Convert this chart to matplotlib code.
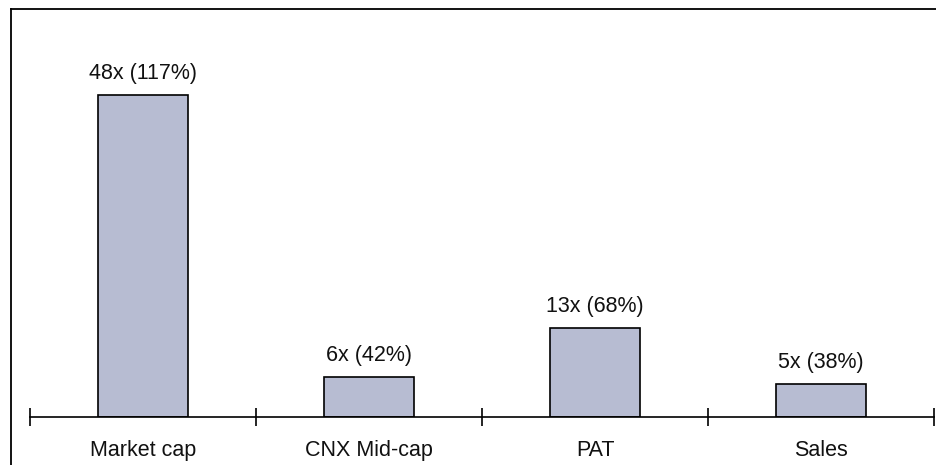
#!/usr/bin/env python3
"""Growth multiples bar chart (market cap vs index vs PAT vs sales)."""

import matplotlib

matplotlib.use("Agg")
import matplotlib.pyplot as plt  # noqa: E402
from matplotlib.lines import Line2D  # noqa: E402

categories = ["Market cap", "CNX Mid-cap", "PAT", "Sales"]
multiples = [48, 6, 13.3, 5]
bar_labels = ["48x (117%)", "6x (42%)", "13x (68%)", "5x (38%)"]

W, H = 936, 465
plt.rcParams["font.family"] = ["Liberation Sans", "DejaVu Sans"]

fig = plt.figure(figsize=(W / 100, H / 100), dpi=100)
ax_bottom = 1 - 417.3 / H
ax_top = 1 - 48.0 / H
ax = fig.add_axes([30 / W, ax_bottom, 904 / W, ax_top - ax_bottom])

x = list(range(len(categories)))
bars = ax.bar(x, multiples, width=0.4, color="#b7bcd2", edgecolor="black", linewidth=1.2)
for bar, label in zip(bars, bar_labels):
    ax.annotate(
        label,
        (bar.get_x() + bar.get_width() / 2, bar.get_height()),
        xytext=(0, 8),
        textcoords="offset points",
        ha="center",
        va="bottom",
        fontsize=15.5,
        color="#111111",
    )

ax.set_xlim(-0.5, len(categories) - 0.5)
ax.set_ylim(0, 55)
for side in ("top", "right", "left"):
    ax.spines[side].set_visible(False)
ax.spines["bottom"].set_linewidth(1.2)
ax.set_yticks([])

# category boundaries get the cross ticks, labels sit under the bars
ax.set_xticks([i - 0.5 for i in range(len(categories) + 1)])
ax.set_xticklabels([])
ax.tick_params(axis="x", direction="inout", length=13, width=1.2)
for xi, name in zip(x, categories):
    ax.text(xi, -0.09, name, transform=ax.get_xaxis_transform(), ha="center", va="center",
            fontsize=15.5, color="#111111")

# partial frame round the figure: top and left edges only
fig.add_artist(Line2D([10.5 / W, 1], [1 - 9.5 / H] * 2, color="black", linewidth=1.3))
fig.add_artist(Line2D([10.5 / W] * 2, [0, 1 - 9.5 / H], color="black", linewidth=1.3))

fig.savefig("out.png", dpi=100)
plt.close(fig)
